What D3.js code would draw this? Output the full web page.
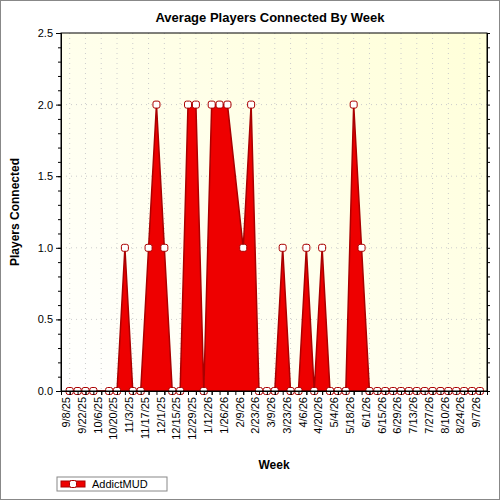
<!DOCTYPE html>
<html lang="en">
<head>
<meta charset="utf-8"/>
<script src="https://d3js.org/d3.v7.min.js"></script>
<style>body{margin:0;} text{font-family:Arial,"Liberation Sans",sans-serif;}</style>
</head>
<body>
<div id="chart"></div>
<script>
// one value per week, 9/8/25 .. 9/7/26 (null = no sample)
var players = [0,0,0,0,null,0,0,1,0,0,1,2,1,0,0,2,2,0,2,2,2,null,1,2,0,0,0,1,0,0,
               1,0,1,0,0,0,2,1,0,0,0,0,0,0,0,0,0,0,0,0,0,0,0];
var tickLabels = ["9/8/25","9/22/25","10/6/25","10/20/25","11/3/25","11/17/25","12/1/25","12/15/25",
    "12/29/25","1/12/26","1/26/26","2/9/26","2/23/26","3/9/26","3/23/26","4/6/26","4/20/26","5/4/26",
    "5/18/26","6/1/26","6/15/26","6/29/26","7/13/26","7/27/26","8/10/26","8/24/26","9/7/26"];
var yTicks = [0, 0.5, 1, 1.5, 2, 2.5];

var margin = {top: 33, right: 13, bottom: 109, left: 61};
var width = 500 - margin.left - margin.right;
var height = 500 - margin.top - margin.bottom;

var root = d3.select("#chart").append("svg").attr("width", 500).attr("height", 500);
var defs = root.append("defs");
var grad = defs.append("linearGradient").attr("id", "bg").attr("x1", 0).attr("y1", 1).attr("x2", 1).attr("y2", 0);
grad.append("stop").attr("offset", "0%").attr("stop-color", "#ffffff");
grad.append("stop").attr("offset", "100%").attr("stop-color", "#ffffd8");

root.append("rect").attr("x", 0.5).attr("y", 0.5).attr("width", 499).attr("height", 499)
    .attr("fill", "white").attr("stroke", "#888");

var svg = root.append("g").attr("transform", "translate(" + margin.left + "," + margin.top + ")");
svg.append("rect").attr("width", width).attr("height", height).attr("fill", "url(#bg)");

var x = d3.scaleLinear().domain([-1.1, players.length - 0.1]).range([0, width]);
var y = d3.scaleLinear().domain([0, 2.5]).range([height, 0]);

// dotted grid
svg.append("g").selectAll("line").data(yTicks.slice(1, -1)).enter().append("line")
    .attr("x1", 0).attr("x2", width).attr("y1", d => y(d)).attr("y2", d => y(d))
    .attr("stroke", "#ccc").attr("stroke-dasharray", "1,4");
svg.append("g").selectAll("line").data(tickLabels).enter().append("line")
    .attr("x1", (d, i) => x(i * 2)).attr("x2", (d, i) => x(i * 2)).attr("y1", 0).attr("y2", height)
    .attr("stroke", "#ccc").attr("stroke-dasharray", "1,4");

var pts = players.map((v, i) => ({i: i, v: v})).filter(d => d.v !== null);

svg.append("path").datum(pts)
    .attr("d", d3.area().x(d => x(d.i)).y0(height).y1(d => y(d.v)))
    .attr("fill", "#ee0000");
svg.append("path").datum(pts)
    .attr("d", d3.line().x(d => x(d.i)).y(d => y(d.v)))
    .attr("fill", "none").attr("stroke", "#aa0000").attr("stroke-width", 1.5);

svg.append("g").selectAll("rect").data(pts).enter().append("rect")
    .attr("x", d => x(d.i) - 3.5).attr("y", d => y(d.v) - 3.5)
    .attr("width", 7).attr("height", 7).attr("rx", 2)
    .attr("fill", "white").attr("stroke", "#aa0000").attr("stroke-width", 1);

// axes
svg.append("g").call(d3.axisLeft(y).tickValues(yTicks).tickFormat(d3.format(".1f")).tickSize(5))
    .call(g => g.selectAll("text").style("font-size", "11px"));
svg.append("g").call(d3.axisLeft(y).tickValues(d3.range(0, 2.51, 0.1)).tickFormat("").tickSize(3));
svg.append("g").attr("transform", "translate(" + width + ",0)")
    .call(d3.axisRight(y).tickValues(d3.range(0, 2.51, 0.1)).tickFormat("").tickSize(3));
svg.append("g").attr("transform", "translate(0," + height + ")")
    .call(d3.axisBottom(x).tickValues(d3.range(0, players.length)).tickFormat("").tickSize(4));
var xa = svg.append("g").attr("transform", "translate(0," + height + ")")
    .call(d3.axisBottom(x).tickValues(tickLabels.map((d, i) => i * 2)).tickFormat((d) => tickLabels[d / 2]).tickSize(4));
xa.selectAll("text").style("font-size", "11px").attr("transform", "rotate(-90)")
    .attr("text-anchor", "end").attr("x", -6).attr("y", -4).attr("dy", "0.35em");
svg.append("rect").attr("width", width).attr("height", height).attr("fill", "none").attr("stroke", "black");

root.append("text").attr("x", 270).attr("y", 22).attr("text-anchor", "middle")
    .style("font-weight", "bold").style("font-size", "13px").text("Average Players Connected By Week");
root.append("text").attr("transform", "translate(19,212) rotate(-90)").attr("text-anchor", "middle")
    .style("font-weight", "bold").style("font-size", "12px").text("Players Connected");
root.append("text").attr("x", 274).attr("y", 469).attr("text-anchor", "middle")
    .style("font-weight", "bold").style("font-size", "12px").text("Week");

// legend
var lg = root.append("g").attr("transform", "translate(57,477)");
lg.append("rect").attr("width", 110).attr("height", 14).attr("fill", "white").attr("stroke", "#888");
lg.append("rect").attr("x", 4).attr("y", 4).attr("width", 24).attr("height", 6).attr("fill", "#ee0000").attr("stroke", "#aa0000");
lg.append("rect").attr("x", 12.5).attr("y", 3.5).attr("width", 7).attr("height", 7).attr("rx", 2)
    .attr("fill", "white").attr("stroke", "#aa0000");
lg.append("text").attr("x", 35).attr("y", 11).style("font-size", "11px").text("AddictMUD");
</script>
</body>
</html>
